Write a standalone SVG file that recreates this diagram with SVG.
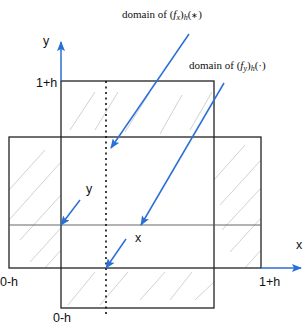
<svg xmlns="http://www.w3.org/2000/svg" width="303" height="327" viewBox="0 0 303 327">
<style>
.box{fill:none;stroke:#222;stroke-width:1.3}
.hatch{stroke:#bdbdbd;stroke-width:0.7;fill:none}
.blue{stroke:#2a6fd6;stroke-width:1.5;fill:none}
.lbl{font-family:"Liberation Sans",Arial,sans-serif;font-size:12.5px;fill:#111}
.math{font-family:"Liberation Serif","Times New Roman",serif;font-size:11px;fill:#111}
</style>
<defs>
<marker id="ah" markerWidth="10" markerHeight="8" refX="9" refY="4" orient="auto" markerUnits="userSpaceOnUse">
<path d="M0,0 L10,4 L0,8 L2,4 Z" fill="#2a6fd6"/>
</marker>
<clipPath id="cl"><rect x="9" y="137" width="52" height="131"/></clipPath>
<clipPath id="cr"><rect x="214" y="137" width="47" height="131"/></clipPath>
<clipPath id="ct"><rect x="61" y="81" width="153" height="56"/></clipPath>
<clipPath id="cb"><rect x="61" y="268" width="153" height="40"/></clipPath>
</defs>
<g id="hatching">
<g clip-path="url(#cl)" class="hatch">
<path d="M9,190 L45,150 M9,220 L61,162 M20,240 L61,195 M30,262 L61,228 M45,268 L61,250"/>
</g>
<g clip-path="url(#cr)" class="hatch">
<path d="M214,180 L245,145 M220,205 L261,160 M222,230 L261,188 M230,252 L261,218 M245,268 L261,250"/>
</g>
<g clip-path="url(#ct)" class="hatch">
<path d="M70,130 L95,92 M95,130 L118,92 M125,132 L150,92 M160,134 L182,95 M190,130 L212,92"/>
</g>
<g clip-path="url(#cb)" class="hatch">
<path d="M68,305 L95,272 M100,305 L128,272 M140,300 L165,272 M170,300 L192,272 M195,300 L214,282"/>
</g>
</g>
<g id="vertical-domain"><rect class="box" x="61" y="81" width="153" height="227"/></g>
<g id="horizontal-domain"><rect class="box" x="9" y="137" width="252" height="131"/></g>
<g id="lines">
<line x1="9" y1="225" x2="261" y2="225" stroke="#555" stroke-width="0.9"/>
<line x1="106" y1="81" x2="106" y2="314" stroke="#111" stroke-width="1.6" stroke-dasharray="2,3.5"/>
</g>
<g id="connectors">
<line class="blue" x1="61" y1="81" x2="61" y2="42" marker-end="url(#ah)"/>
<line class="blue" x1="261" y1="268" x2="301" y2="268" marker-end="url(#ah)"/>
<line class="blue" x1="189" y1="34" x2="111" y2="148" marker-end="url(#ah)"/>
<line class="blue" x1="224" y1="83" x2="141" y2="225" marker-end="url(#ah)"/>
<line class="blue" x1="80" y1="200" x2="61" y2="225" marker-end="url(#ah)"/>
<line class="blue" x1="126" y1="239" x2="106" y2="268" marker-end="url(#ah)"/>
</g>
<g id="labels">
<text class="lbl" x="43" y="45">y</text>
<text class="lbl" x="36" y="87">1+h</text>
<text class="lbl" x="86" y="193">y</text>
<text class="lbl" x="135" y="242">x</text>
<text class="lbl" x="296" y="249">x</text>
<text class="lbl" x="0" y="286">0-h</text>
<text class="lbl" x="259" y="286">1+h</text>
<text class="lbl" x="53" y="322">0-h</text>
<text class="math" x="122" y="18">domain of (<tspan font-style="italic">f</tspan><tspan font-style="italic" font-size="8" dy="2">x</tspan><tspan dy="-2">)</tspan><tspan font-style="italic" font-size="8" dy="2">h</tspan><tspan dy="-2">(</tspan><tspan font-size="8">∗</tspan>)</text>
<text class="math" x="189" y="69">domain of (<tspan font-style="italic">f</tspan><tspan font-style="italic" font-size="8" dy="2">y</tspan><tspan dy="-2">)</tspan><tspan font-style="italic" font-size="8" dy="2">h</tspan><tspan dy="-2">(·)</tspan></text>
</g>
</svg>
